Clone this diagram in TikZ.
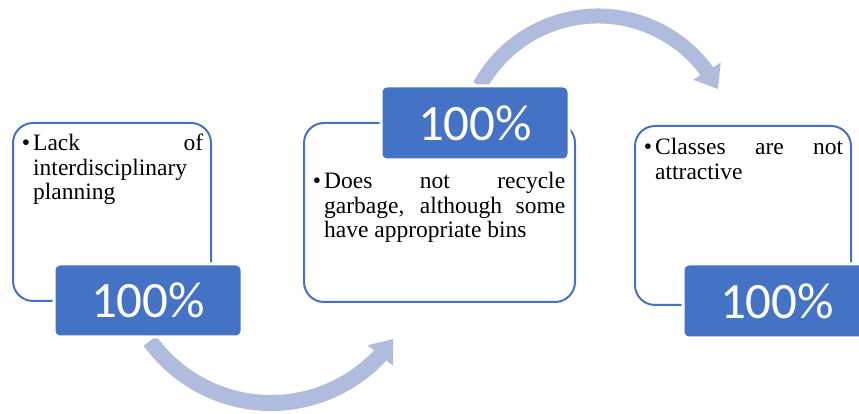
\documentclass[tikz,border=0pt]{standalone}
\usepackage{fontspec}
\setmainfont{Liberation Serif}
\newfontfamily\pctfont{Carlito}
\usetikzlibrary{arrows.meta,bending}

\definecolor{boxblue}{RGB}{68,114,196}
\definecolor{arcblue}{RGB}{176,188,222}
\hyphenpenalty=10000
\tolerance=10000

\begin{document}
\begin{tikzpicture}[x=1pt,y=1pt]
        % Define styles for the outline boxes, the percent boxes and the arcs
        \tikzset{
            box_outline/.style={draw=boxblue, line width=2pt, rounded corners=20pt, inner sep=0pt},
            box_pct/.style={draw=white, line width=3pt, fill=boxblue, rounded corners=6pt,
                minimum width=188pt, minimum height=74pt, inner sep=0pt, text=white,
                font=\pctfont\fontsize{51}{51}\selectfont},
            txt_item/.style={anchor=base west, inner sep=0pt, align=justify,
                font=\fontsize{23.5}{24.5}\selectfont},
            arrow_arc/.style={draw=arcblue, line width=16pt, -{Triangle[width=31pt,length=21pt]}}
        }

        \useasboundingbox (0,0) rectangle (859,414);
        \clip (0,0) rectangle (859,414);

        % Arcs go first, the percent boxes hide their tails
        \coordinate (c_low) at (271,160);
        \coordinate (c_high) at (598,263);
        \draw[arrow_arc] (c_low) ++(215.7:149) arc[start angle=215.7, end angle=325.2, radius=149];
        \draw[arrow_arc, line width=15pt] (c_high) ++(151.2:135) arc[start angle=151.2, end angle=27.3, radius=135];

        % Box 1: percent box at the bottom right
        \node[box_outline, minimum width=198pt, minimum height=178pt] (out1) at (112,202) {};
        \node[txt_item, text width=170pt] (txt1) at (33,263)
            {\makebox[0pt][r]{\textbullet\kern3pt}Lack of\linebreak interdisciplinary planning};
        \node[box_pct, minimum height=73pt] (pct1) at (148,113.5) {100\%};

        % Box 2: percent box at the top right
        \node[box_outline, minimum width=271pt, minimum height=179pt] (out2) at (439.5,201.5) {};
        \node[box_pct] (pct2) at (475,291) {100\%};
        \node[txt_item, text width=241pt] (txt2) at (324,225)
            {\makebox[0pt][r]{\textbullet\kern3pt}Does not recycle\linebreak garbage, although some\linebreak have appropriate bins};

        % Box 3: percent box at the bottom right, cut by the page edge
        \node[box_outline, minimum width=216pt, minimum height=179pt] (out3) at (743,198.5) {};
        \node[txt_item, text width=188pt] (txt3) at (655,259)
            {\makebox[0pt][r]{\textbullet\kern3pt}Classes are not\linebreak attractive};
        \node[box_pct] (pct3) at (777,113) {100\%};

    \end{tikzpicture}
\end{document}
